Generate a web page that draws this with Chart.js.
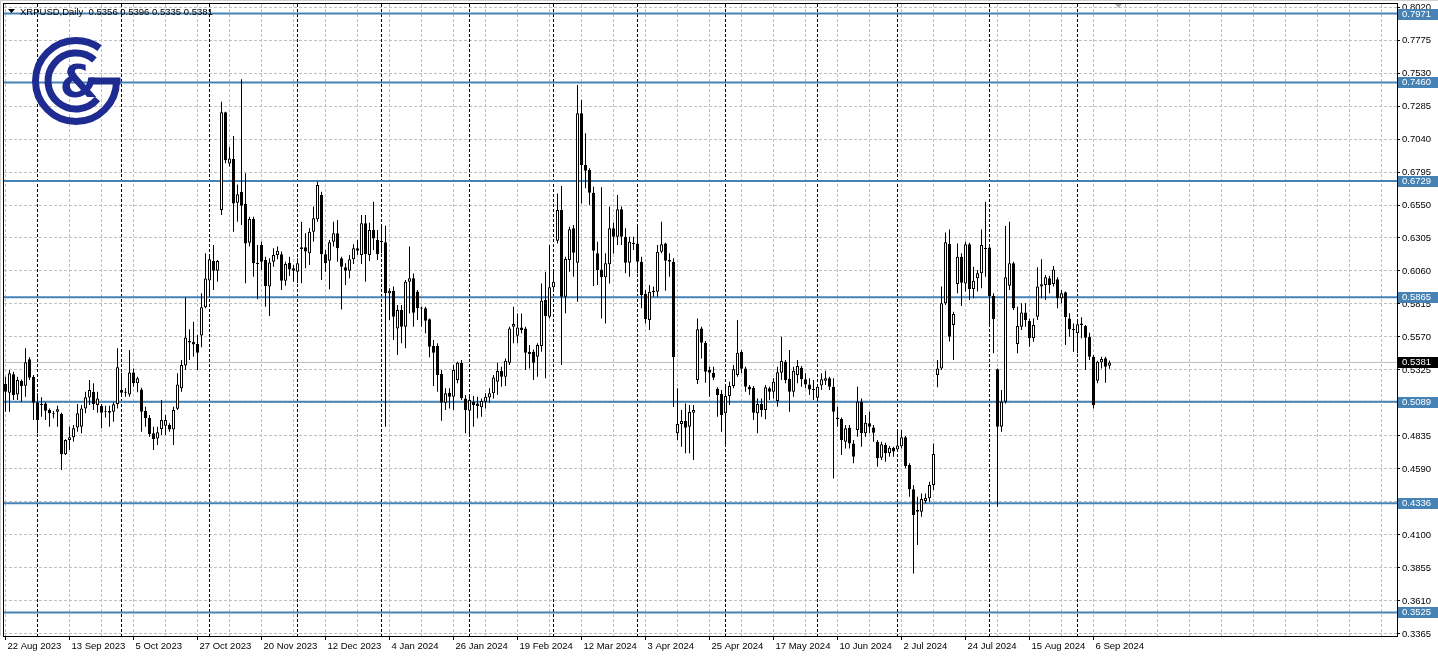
<!DOCTYPE html>
<html>
<head>
<meta charset="utf-8">
<title>XRPUSD Daily</title>
<script src="https://cdn.jsdelivr.net/npm/chart.js@4.4.1/dist/chart.umd.min.js"></script>
<style>
  html, body { margin: 0; padding: 0; background: #fff; overflow: hidden; }
  canvas { display: block; }
</style>
</head>
<body>
<canvas id="chart" width="1438" height="656"></canvas>
<script>
const symbolTitle = 'XRPUSD,Daily  0.5356 0.5396 0.5335 0.5381';

// one label every 16 daily bars (weekdays only)
const dateLabels = ['22 Aug 2023', '13 Sep 2023', '5 Oct 2023', '27 Oct 2023', '20 Nov 2023', '12 Dec 2023',
  '4 Jan 2024', '26 Jan 2024', '19 Feb 2024', '12 Mar 2024', '3 Apr 2024', '25 Apr 2024', '17 May 2024',
  '10 Jun 2024', '2 Jul 2024', '24 Jul 2024', '15 Aug 2024', '6 Sep 2024'];
// bar index of the first bar of each month (period separators)
const monthStarts = [8, 29, 51, 73, 94, 116, 137, 158, 180, 203, 223, 246, 268];

const priceTicks = [0.3365, 0.3610, 0.3855, 0.4100, 0.4345, 0.4590, 0.4835, 0.5080, 0.5325, 0.5570,
  0.5815, 0.6060, 0.6305, 0.6550, 0.6795, 0.7040, 0.7285, 0.7530, 0.7775, 0.8020];
const levels = [0.7971, 0.7460, 0.6729, 0.5865, 0.5089, 0.4336, 0.3525];
const lastPrice = 0.5381;

const opens = [
  0.5221, 0.5156, 0.5293, 0.5144, 0.5243, 0.5208, 0.5404, 0.5273, 0.5085, 0.5065,
  0.5077, 0.5028, 0.5003, 0.5015, 0.4998, 0.4699, 0.4805, 0.4825, 0.4899, 0.4904,
  0.5040, 0.5120, 0.5164, 0.5065, 0.5057, 0.5015, 0.5020, 0.5015, 0.5072, 0.5176,
  0.5156, 0.5144, 0.5307, 0.5226, 0.5181, 0.5020, 0.4971, 0.4855, 0.4817, 0.4887,
  0.4912, 0.4916, 0.4884, 0.5038, 0.5189, 0.5359, 0.5540, 0.5532, 0.5518, 0.5582,
  0.5790, 0.5990, 0.6134, 0.6062, 0.6513, 0.7238, 0.6859, 0.6891, 0.6567, 0.6649,
  0.6557, 0.6270, 0.6446, 0.6117, 0.6253, 0.6142, 0.5944, 0.6129, 0.6179, 0.6184,
  0.5988, 0.6122, 0.6080, 0.6055, 0.6223, 0.6236, 0.6191, 0.6352, 0.6444, 0.6624,
  0.6184, 0.6137, 0.6278, 0.6340, 0.6154, 0.6087, 0.6062, 0.6147, 0.6228, 0.6179,
  0.6414, 0.6179, 0.6364, 0.6290, 0.6278, 0.6273, 0.5894, 0.5914, 0.5634, 0.5770,
  0.5646, 0.5981, 0.6006, 0.5907, 0.5783, 0.5783, 0.5701, 0.5503, 0.5503, 0.5295,
  0.5082, 0.5157, 0.5127, 0.5251, 0.5379, 0.5114, 0.5023, 0.5090, 0.5077, 0.5048,
  0.5090, 0.5120, 0.5152, 0.5238, 0.5317, 0.5275, 0.5379, 0.5646, 0.5580, 0.5641,
  0.5634, 0.5461, 0.5461, 0.5424, 0.5503, 0.5845, 0.5721, 0.5939, 0.6285, 0.6513,
  0.5869, 0.6142, 0.6377, 0.6122, 0.7231, 0.6847, 0.6810, 0.6641, 0.6191, 0.6072,
  0.6013, 0.6111, 0.6377, 0.6315, 0.6518, 0.6315, 0.6122, 0.6270, 0.6265, 0.6129,
  0.5889, 0.5696, 0.5902, 0.5906, 0.6203, 0.6265, 0.6141, 0.6129, 0.4855, 0.4924,
  0.4946, 0.4904, 0.5008, 0.5250, 0.5634, 0.5528, 0.5325, 0.5305, 0.5186, 0.5146,
  0.5003, 0.5132, 0.5206, 0.5288, 0.5461, 0.5337, 0.5201, 0.5191, 0.5003, 0.5072,
  0.5028, 0.5189, 0.5164, 0.5095, 0.5305, 0.5387, 0.5258, 0.5164, 0.5288, 0.5342,
  0.5256, 0.5218, 0.5184, 0.5119, 0.5209, 0.5246, 0.5263, 0.5201, 0.4973, 0.4961,
  0.4793, 0.4897, 0.4780, 0.4879, 0.5090, 0.4855, 0.4929, 0.4899, 0.4793, 0.4674,
  0.4768, 0.4706, 0.4748, 0.4735, 0.4758, 0.4825, 0.4619, 0.4439, 0.4273, 0.4273,
  0.4352, 0.4372, 0.4471, 0.5288, 0.5337, 0.5820, 0.6261, 0.5659, 0.5964, 0.6166,
  0.5968, 0.6258, 0.5926, 0.6006, 0.6043, 0.6228, 0.6235, 0.5874, 0.5330, 0.4904,
  0.5090, 0.5951, 0.6117, 0.5518, 0.5646, 0.5751, 0.5689, 0.5560, 0.5721, 0.5944,
  0.5956, 0.6006, 0.5963, 0.5998, 0.5857, 0.5902, 0.5708, 0.5627, 0.5597, 0.5671,
  0.5651, 0.5572, 0.5424, 0.5246, 0.5382, 0.5412, 0.5356
];
const highs = [
  0.5275, 0.5325, 0.5312, 0.5275, 0.5255, 0.5486, 0.5419, 0.5288, 0.5152, 0.5122,
  0.5085, 0.5040, 0.5020, 0.5060, 0.5008, 0.4810, 0.4904, 0.4916, 0.5072, 0.5065,
  0.5164, 0.5251, 0.5226, 0.5164, 0.5072, 0.5060, 0.5060, 0.5085, 0.5486, 0.5305,
  0.5189, 0.5473, 0.5337, 0.5275, 0.5194, 0.5053, 0.4991, 0.4904, 0.4904, 0.5102,
  0.4991, 0.4929, 0.5053, 0.5300, 0.5399, 0.5864, 0.5627, 0.5684, 0.5585, 0.5894,
  0.6191, 0.6179, 0.6253, 0.6142, 0.7317, 0.7243, 0.6978, 0.7062, 0.6703, 0.7483,
  0.6785, 0.6463, 0.6463, 0.6253, 0.6278, 0.6166, 0.6154, 0.6228, 0.6241, 0.6204,
  0.6129, 0.6166, 0.6104, 0.6154, 0.6426, 0.6340, 0.6377, 0.6538, 0.6723, 0.6649,
  0.6216, 0.6290, 0.6426, 0.6438, 0.6166, 0.6117, 0.6179, 0.6258, 0.6290, 0.6476,
  0.6476, 0.6419, 0.6575, 0.6364, 0.6396, 0.6396, 0.5931, 0.5944, 0.5807, 0.5807,
  0.5993, 0.6241, 0.6042, 0.5919, 0.5795, 0.5795, 0.5708, 0.5547, 0.5523, 0.5325,
  0.5189, 0.5189, 0.5362, 0.5387, 0.5399, 0.5139, 0.5139, 0.5132, 0.5127, 0.5114,
  0.5152, 0.5189, 0.5288, 0.5379, 0.5350, 0.5411, 0.5646, 0.5795, 0.5745, 0.5745,
  0.5646, 0.5510, 0.5478, 0.5523, 0.5968, 0.6055, 0.6253, 0.6055, 0.6636, 0.6691,
  0.6166, 0.6389, 0.6401, 0.7441, 0.7329, 0.7082, 0.6822, 0.6686, 0.6278, 0.6681,
  0.6191, 0.6537, 0.6420, 0.6625, 0.6538, 0.6377, 0.6315, 0.6315, 0.6389, 0.6166,
  0.5919, 0.5956, 0.5944, 0.6253, 0.6426, 0.6270, 0.6191, 0.6154, 0.5189, 0.5028,
  0.5077, 0.5065, 0.5065, 0.5708, 0.5646, 0.5540, 0.5349, 0.5349, 0.5196, 0.5176,
  0.5206, 0.5238, 0.5362, 0.5696, 0.5473, 0.5350, 0.5213, 0.5206, 0.5114, 0.5114,
  0.5213, 0.5201, 0.5263, 0.5350, 0.5572, 0.5399, 0.5473, 0.5350, 0.5399, 0.5355,
  0.5300, 0.5263, 0.5251, 0.5218, 0.5300, 0.5320, 0.5275, 0.5263, 0.5053, 0.4973,
  0.4916, 0.4916, 0.4805, 0.5201, 0.5114, 0.4991, 0.5015, 0.4916, 0.4805, 0.4793,
  0.4785, 0.4761, 0.4756, 0.4877, 0.4879, 0.4835, 0.4632, 0.4471, 0.4384, 0.4409,
  0.4409, 0.4496, 0.4780, 0.5399, 0.5944, 0.6345, 0.6369, 0.5758, 0.6265, 0.6191,
  0.6278, 0.6270, 0.6092, 0.6067, 0.6369, 0.6575, 0.6253, 0.5894, 0.5337, 0.5177,
  0.6394, 0.6426, 0.6129, 0.5795, 0.5820, 0.5820, 0.5708, 0.5708, 0.6087, 0.6147,
  0.6030, 0.6023, 0.6097, 0.6013, 0.5919, 0.5907, 0.5746, 0.5671, 0.5684, 0.5716,
  0.5659, 0.5602, 0.5436, 0.5394, 0.5424, 0.5424, 0.5396
];
const lows = [
  0.5015, 0.5015, 0.5102, 0.5102, 0.5090, 0.5127, 0.5251, 0.4953, 0.4855, 0.4978,
  0.4953, 0.4904, 0.4966, 0.4904, 0.4582, 0.4694, 0.4731, 0.4793, 0.4867, 0.4855,
  0.5003, 0.5065, 0.5028, 0.5008, 0.4892, 0.4973, 0.4904, 0.4941, 0.5040, 0.5139,
  0.5127, 0.5127, 0.5201, 0.5159, 0.4867, 0.4904, 0.4830, 0.4731, 0.4768, 0.4842,
  0.4842, 0.4867, 0.4768, 0.5028, 0.5164, 0.5325, 0.5399, 0.5424, 0.5325, 0.5493,
  0.5783, 0.5869, 0.5919, 0.5981, 0.6476, 0.6860, 0.6835, 0.6352, 0.6426, 0.6401,
  0.5969, 0.6241, 0.6018, 0.5850, 0.6067, 0.5795, 0.5726, 0.6092, 0.6147, 0.5919,
  0.5951, 0.6023, 0.5981, 0.5969, 0.5969, 0.6080, 0.6104, 0.6278, 0.6426, 0.5993,
  0.6055, 0.5924, 0.6241, 0.6129, 0.5775, 0.5956, 0.6006, 0.6112, 0.6179, 0.6112,
  0.5981, 0.6134, 0.6216, 0.6142, 0.6191, 0.4904, 0.5696, 0.5547, 0.5436, 0.5523,
  0.5486, 0.5745, 0.5646, 0.5696, 0.5646, 0.5597, 0.5419, 0.5206, 0.5164, 0.4949,
  0.5028, 0.5040, 0.5028, 0.5226, 0.5102, 0.4855, 0.4842, 0.4904, 0.4966, 0.4978,
  0.5040, 0.5082, 0.5114, 0.5139, 0.5201, 0.5206, 0.5362, 0.5523, 0.5523, 0.5597,
  0.5325, 0.5337, 0.5251, 0.5275, 0.5461, 0.5263, 0.5708, 0.5919, 0.6265, 0.5362,
  0.5746, 0.6055, 0.6018, 0.5832, 0.6562, 0.6674, 0.6550, 0.5948, 0.5956, 0.5708,
  0.5671, 0.5968, 0.6190, 0.6253, 0.6253, 0.6043, 0.6018, 0.6216, 0.6043, 0.5783,
  0.5671, 0.5622, 0.5869, 0.5869, 0.6191, 0.5914, 0.6018, 0.5050, 0.4805, 0.4756,
  0.4706, 0.4706, 0.4657, 0.5221, 0.5411, 0.5231, 0.5127, 0.5250, 0.4978, 0.4867,
  0.4768, 0.5065, 0.5189, 0.5275, 0.5300, 0.5164, 0.5139, 0.4954, 0.4855, 0.4978,
  0.4959, 0.5102, 0.5114, 0.5053, 0.5251, 0.5226, 0.5015, 0.5127, 0.5226, 0.5201,
  0.5189, 0.5139, 0.5102, 0.5090, 0.5176, 0.5213, 0.5176, 0.4520, 0.4904, 0.4694,
  0.4743, 0.4743, 0.4632, 0.4830, 0.4756, 0.4830, 0.4855, 0.4793, 0.4607, 0.4657,
  0.4644, 0.4681, 0.4681, 0.4719, 0.4743, 0.4595, 0.4384, 0.3815, 0.4026, 0.4236,
  0.4335, 0.4347, 0.4434, 0.5196, 0.5325, 0.5808, 0.5536, 0.5399, 0.5894, 0.5800,
  0.5907, 0.5845, 0.5857, 0.5907, 0.5931, 0.6018, 0.5659, 0.5449, 0.4310, 0.4867,
  0.5077, 0.5919, 0.5770, 0.5449, 0.5622, 0.5646, 0.5498, 0.5535, 0.5696, 0.5857,
  0.5845, 0.5894, 0.5944, 0.5783, 0.5820, 0.5511, 0.5572, 0.5461, 0.5449, 0.5560,
  0.5325, 0.5399, 0.5040, 0.5226, 0.5337, 0.5231, 0.5335
];
const closes = [
  0.5164, 0.5300, 0.5139, 0.5251, 0.5206, 0.5382, 0.5268, 0.5082, 0.4953, 0.5072,
  0.5023, 0.5003, 0.4996, 0.5033, 0.4699, 0.4805, 0.4825, 0.4892, 0.5003, 0.5040,
  0.5122, 0.5176, 0.5072, 0.5114, 0.5008, 0.5018, 0.5008, 0.5070, 0.5345, 0.5156,
  0.5158, 0.5307, 0.5226, 0.5263, 0.5015, 0.4966, 0.4850, 0.4812, 0.4862, 0.4953,
  0.4953, 0.4884, 0.5028, 0.5218, 0.5362, 0.5567, 0.5530, 0.5515, 0.5453, 0.5790,
  0.6005, 0.6147, 0.6062, 0.6134, 0.7238, 0.6884, 0.6896, 0.6562, 0.6629, 0.6545,
  0.6265, 0.6446, 0.6117, 0.6112, 0.6129, 0.5949, 0.6124, 0.6179, 0.6211, 0.5988,
  0.6112, 0.6072, 0.6062, 0.6117, 0.6236, 0.6204, 0.6352, 0.6451, 0.6698, 0.6184,
  0.6117, 0.6273, 0.6340, 0.6228, 0.6092, 0.6062, 0.6147, 0.6228, 0.6211, 0.6414,
  0.6184, 0.6364, 0.6302, 0.6184, 0.6275, 0.5894, 0.5914, 0.5721, 0.5770, 0.5646,
  0.5981, 0.6006, 0.5750, 0.5783, 0.5781, 0.5691, 0.5498, 0.5453, 0.5288, 0.5082,
  0.5152, 0.5127, 0.5325, 0.5379, 0.5115, 0.5028, 0.5102, 0.5065, 0.5057, 0.5095,
  0.5127, 0.5152, 0.5270, 0.5317, 0.5275, 0.5394, 0.5634, 0.5666, 0.5641, 0.5622,
  0.5453, 0.5444, 0.5379, 0.5510, 0.5840, 0.5726, 0.5939, 0.5981, 0.6513, 0.5869,
  0.6149, 0.6370, 0.6196, 0.7231, 0.6847, 0.6805, 0.6641, 0.6211, 0.6067, 0.6013,
  0.6117, 0.6377, 0.6315, 0.6518, 0.6315, 0.6122, 0.6278, 0.6260, 0.6129, 0.5882,
  0.5701, 0.5906, 0.5914, 0.6203, 0.6258, 0.6137, 0.6129, 0.5419, 0.4924, 0.4946,
  0.4897, 0.5013, 0.5028, 0.5627, 0.5528, 0.5312, 0.5305, 0.5268, 0.5139, 0.4991,
  0.5132, 0.5206, 0.5330, 0.5453, 0.5335, 0.5201, 0.5181, 0.5008, 0.5072, 0.5028,
  0.5196, 0.5164, 0.5238, 0.5308, 0.5392, 0.5251, 0.5164, 0.5320, 0.5355, 0.5256,
  0.5218, 0.5181, 0.5176, 0.5201, 0.5256, 0.5263, 0.5201, 0.5015, 0.4959, 0.4805,
  0.4892, 0.4780, 0.4681, 0.5090, 0.4855, 0.4934, 0.4904, 0.4860, 0.4669, 0.4773,
  0.4706, 0.4748, 0.4719, 0.4765, 0.4825, 0.4612, 0.4439, 0.4248, 0.4285, 0.4367,
  0.4375, 0.4471, 0.4701, 0.5337, 0.5820, 0.6273, 0.5572, 0.5741, 0.6166, 0.5973,
  0.6258, 0.5926, 0.5988, 0.6043, 0.6253, 0.6223, 0.5874, 0.5701, 0.4904, 0.5090,
  0.6013, 0.6117, 0.5783, 0.5651, 0.5751, 0.5696, 0.5560, 0.5659, 0.5944, 0.5961,
  0.6013, 0.5956, 0.6072, 0.5857, 0.5894, 0.5716, 0.5627, 0.5622, 0.5664, 0.5659,
  0.5565, 0.5424, 0.5065, 0.5387, 0.5406, 0.5350, 0.5381
];

// axis window: 4 px per bar, 1346.9 px per 1.0 of price
const xMin = -0.375, xMax = 347.875;
const yMin = 0.33501, yMax = 0.80423;
const gridStep = 8;

const FONT = 'Liberation Sans, Arial, sans-serif';
const LEVEL_BLUE = '#4682b4';
const GRID_GREY = '#c0c0c0';

const wicks = opens.map((o, i) => ({ x: i, y: [lows[i], highs[i]] }));
const bodies = opens.map((o, i) => ({ x: i, y: [o, closes[i]] }));
const bodyFill = opens.map((o, i) => closes[i] >= o ? '#ffffff' : '#000000');

const levelSets = levels.map(v => ({
  type: 'line',
  data: [{ x: xMin, y: v }, { x: xMax, y: v }],
  borderColor: LEVEL_BLUE,
  borderWidth: 2,
  pointRadius: 0,
  order: 5
}));

const gridTicks = [];
for (let v = 0; v <= xMax; v += gridStep) gridTicks.push({ value: v });

function priceTag(ctx, y, text, bg) {
  const yy = Math.round(y);
  ctx.fillStyle = bg;
  ctx.fillRect(1398, yy - 5, 40, 11);
  ctx.fillStyle = '#ffffff';
  ctx.textAlign = 'left';
  ctx.textBaseline = 'middle';
  ctx.fillText(text, 1402, yy + 0.5);
}

function drawLogo(ctx) {
  const cx = 76, cy = 81;
  ctx.save();
  ctx.strokeStyle = '#1e2b91';
  ctx.fillStyle = '#1e2b91';
  ctx.lineWidth = 7;
  ctx.beginPath();
  ctx.arc(cx, cy, 40.5, 0, Math.PI * 2 - 0.95);
  ctx.stroke();
  ctx.fillRect(cx + 14, cy - 3.5, 30.5, 7);
  ctx.beginPath();
  ctx.arc(cx, cy, 28, 0.7, Math.PI * 2 - 0.85);
  ctx.stroke();
  ctx.font = 'bold 44px "DejaVu Sans"';
  ctx.textAlign = 'center';
  ctx.textBaseline = 'middle';
  ctx.fillText('&', cx + 3, cy + 5);
  ctx.restore();
}

const terminalLook = {
  id: 'terminalLook',
  beforeDraw(chart) {
    const ctx = chart.ctx;
    ctx.save();
    ctx.fillStyle = '#ffffff';
    ctx.fillRect(0, 0, chart.width, chart.height);
    ctx.restore();
  },
  beforeDatasetsDraw(chart) {
    const { ctx, chartArea: a, scales: { x } } = chart;
    ctx.save();
    ctx.strokeStyle = '#000000';
    ctx.lineWidth = 1;
    ctx.setLineDash([3, 2]);
    monthStarts.forEach(i => {
      const px = Math.round(x.getPixelForValue(i) - 0.5) + 0.5;
      ctx.beginPath();
      ctx.moveTo(px, a.top);
      ctx.lineTo(px, a.bottom);
      ctx.stroke();
    });
    ctx.restore();
  },
  afterDraw(chart) {
    const { ctx, chartArea: a, scales: { y } } = chart;
    ctx.save();
    // window strip and frame
    ctx.fillStyle = '#ffffff';
    ctx.fillRect(a.right + 1, 0, chart.width - a.right, 3);
    ctx.fillStyle = '#d0d0d0';
    ctx.fillRect(0, 0, chart.width, 1);
    ctx.fillRect(0, 0, 1, a.bottom);
    ctx.strokeStyle = '#000000';
    ctx.lineWidth = 1;
    ctx.strokeRect(a.left - 0.5, a.top - 0.5, a.right - a.left + 1, a.bottom - a.top + 1);
    // shift marker
    ctx.fillStyle = '#b0b0b0';
    ctx.beginPath();
    ctx.moveTo(1115, 4); ctx.lineTo(1122, 4); ctx.lineTo(1118.5, 8);
    ctx.closePath(); ctx.fill();

    ctx.font = '9.5px ' + FONT;
    levels.forEach(v => priceTag(ctx, y.getPixelForValue(v), v.toFixed(4), LEVEL_BLUE));
    priceTag(ctx, y.getPixelForValue(lastPrice), lastPrice.toFixed(4), '#000000');

    // title
    ctx.fillStyle = '#000000';
    ctx.beginPath();
    ctx.moveTo(8, 9); ctx.lineTo(15, 9); ctx.lineTo(11.5, 13);
    ctx.closePath(); ctx.fill();
    ctx.font = '9.5px ' + FONT;
    ctx.textAlign = 'left';
    ctx.textBaseline = 'alphabetic';
    ctx.fillText(symbolTitle, 20, 15);
    ctx.restore();

    drawLogo(ctx);
  }
};

new Chart(document.getElementById('chart'), {
  type: 'bar',
  data: {
    datasets: [
      {
        label: 'bodies',
        data: bodies,
        backgroundColor: bodyFill,
        borderColor: '#000000',
        borderWidth: 1,
        borderSkipped: false,
        barThickness: 3,
        minBarLength: 1,
        inflateAmount: 0,
        grouped: false,
        order: 1
      },
      {
        label: 'wicks',
        data: wicks,
        backgroundColor: '#000000',
        borderWidth: 0,
        barThickness: 1,
        minBarLength: 1,
        inflateAmount: 0,
        grouped: false,
        order: 2
      },
      {
        type: 'line',
        data: [{ x: xMin, y: lastPrice }, { x: xMax, y: lastPrice }],
        borderColor: GRID_GREY,
        borderWidth: 1,
        pointRadius: 0,
        order: 6
      },
      ...levelSets
    ]
  },
  options: {
    responsive: false,
    devicePixelRatio: 1,
    animation: false,
    events: [],
    layout: { padding: { top: 4, left: 4, right: 0, bottom: 0 } },
    plugins: { legend: { display: false }, tooltip: { enabled: false } },
    scales: {
      x: {
        type: 'linear',
        min: xMin,
        max: xMax,
        offset: false,
        afterBuildTicks: s => { s.ticks = gridTicks.map(t => ({ value: t.value })); },
        afterFit: s => { s.height = 20; s.paddingLeft = 0; s.paddingRight = 0; },
        ticks: {
          autoSkip: false,
          maxRotation: 0,
          minRotation: 0,
          align: 'start',
          labelOffset: 2,
          padding: 1,
          color: '#000000',
          font: { family: FONT, size: 9.5 },
          callback: v => (v % 16 === 0 && dateLabels[v / 16]) ? dateLabels[v / 16] : ''
        },
        grid: {
          offset: false,
          color: GRID_GREY,
          lineWidth: 1,
          tickLength: 4,
          tickColor: c => (c.tick && c.tick.value % 16 === 0 && dateLabels[c.tick.value / 16]) ? '#000000' : 'rgba(0,0,0,0)'
        },
        border: { display: true, color: '#000000', dash: [3, 2] }
      },
      y: {
        type: 'linear',
        position: 'right',
        min: yMin,
        max: yMax,
        afterBuildTicks: s => { s.ticks = priceTicks.map(v => ({ value: v })); },
        afterFit: s => { s.width = 41; s.paddingTop = 0; s.paddingBottom = 0; },
        ticks: {
          autoSkip: false,
          padding: 2,
          color: '#000000',
          font: { family: FONT, size: 9.5 },
          callback: v => Number(v).toFixed(4)
        },
        grid: { color: GRID_GREY, lineWidth: 1, tickLength: 3, tickColor: '#000000' },
        border: { display: true, color: '#000000', dash: [3, 2] }
      }
    }
  },
  plugins: [terminalLook]
});
</script>
</body>
</html>
